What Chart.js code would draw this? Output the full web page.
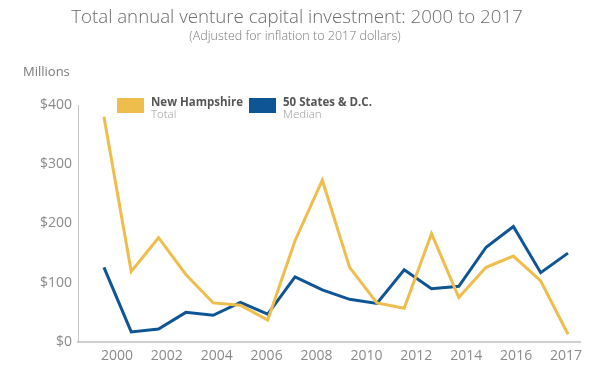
<!DOCTYPE html>
<html><head><meta charset="utf-8">
<script src="https://cdn.jsdelivr.net/npm/chart.js@4.4.1/dist/chart.umd.min.js"></script>
<style>html,body{margin:0;padding:0;background:#fff}#wrap{width:610px;height:384px}</style>
</head><body><div id="wrap"><canvas id="c" width="610" height="384"></canvas></div>
<script>
// ---- data ----
const years = [2000,2001,2002,2003,2004,2005,2006,2007,2008,2009,2010,2011,2012,2013,2014,2015,2016,2017];
const newHampshireTotal = [380,119,176,114,66,62,37,171,273,126,66,57,183,75,126,145,103,13];
const statesMedian = [126,17,22,50,45,67,47,110,88,72,65,122,90,94,160,195,117,150];
const yearTickLabels = ['2000','2002','2004','2006','2008','2010','2012','2014','2016','2017'];
const yTickValues = [0,100,200,300,400];
const seriesNames = ['New Hampshire','50 States & D.C.'];
const seriesNotes = ['Total','Median'];
const titleText = 'Total annual venture capital investment: 2000 to 2017';
const subtitleText = '(Adjusted for inflation to 2017 dollars)';
const unitText = 'Millions';

const FONT = '"Open Sans", sans-serif';
const YELLOW = '#EFBD4C';
const BLUE = '#0E5596';

const textPlugin = {
  id: 'texts',
  afterDraw(chart) {
    const ctx = chart.ctx;
    ctx.save();
    ctx.textBaseline = 'middle';
    ctx.fillStyle = '#6b6b6b';
    ctx.textAlign = 'center';
    ctx.font = '300 18.7px ' + FONT;
    ctx.fillText(titleText, 297, 18);
    ctx.font = '300 12.5px ' + FONT;
    ctx.fillStyle = '#7a7a7a';
    ctx.fillText(subtitleText, 295, 36);
    ctx.textAlign = 'left';
    ctx.font = '400 13px ' + FONT;
    ctx.fillStyle = '#7a7a7a';
    ctx.fillText(unitText, 23, 72);
    // legend
    const items = [{x:117, color: YELLOW}, {x:249, color: BLUE}];
    items.forEach((it, i) => {
      ctx.fillStyle = it.color;
      ctx.fillRect(it.x, 98, 27, 15);
      ctx.fillStyle = '#555';
      ctx.font = '700 11.5px ' + FONT;
      ctx.fillText(seriesNames[i], it.x + 34, 103);
      ctx.fillStyle = '#999';
      ctx.font = '300 11.5px ' + FONT;
      ctx.fillText(seriesNotes[i], it.x + 34, 115);
    });
    ctx.restore();
  }
};

new Chart(document.getElementById('c'), {
  type: 'line',
  data: {
    datasets: [
      { label: seriesNames[0], data: years.map((yr, i) => ({x: yr, y: newHampshireTotal[i]})),
        borderColor: YELLOW, borderWidth: 3, pointRadius: 0, tension: 0, xAxisID: 'x', yAxisID: 'y' },
      { label: seriesNames[1], data: years.map((yr, i) => ({x: yr, y: statesMedian[i]})),
        borderColor: BLUE, borderWidth: 3, pointRadius: 0, tension: 0, xAxisID: 'x', yAxisID: 'y' }
    ]
  },
  options: {
    responsive: false,
    animation: false,
    layout: { padding: { top: 105, right: 30, bottom: 12, left: 0 } },
    plugins: { legend: { display: false }, title: { display: false }, tooltip: { enabled: false } },
    scales: {
      x: { type: 'linear', min: 1999.05, max: 2017.44, display: false },
      x2: {
        type: 'linear', position: 'bottom', min: -0.78, max: 9.28,
        afterBuildTicks: s => { s.ticks = yearTickLabels.map((_, i) => ({ value: i })); },
        afterFit: s => { s.height = 30; },
        ticks: { autoSkip: false, maxRotation: 0, padding: 6, color: '#8a8a8a',
                 font: { family: FONT, size: 14 }, callback: v => yearTickLabels[v] },
        grid: { display: false, drawTicks: false },
        border: { display: true, color: '#cfcfcf', width: 2 }
      },
      y: {
        min: 0, max: 400,
        afterBuildTicks: s => { s.ticks = yTickValues.map(v => ({ value: v })); },
        afterFit: s => { s.width = 78; },
        ticks: { padding: 6, color: '#8a8a8a', font: { family: FONT, size: 14 },
                 callback: v => '$' + v },
        grid: { display: false, drawTicks: false },
        border: { display: true, color: '#c4c4c4', width: 1 }
      }
    }
  },
  plugins: [textPlugin]
});
</script></body></html>
